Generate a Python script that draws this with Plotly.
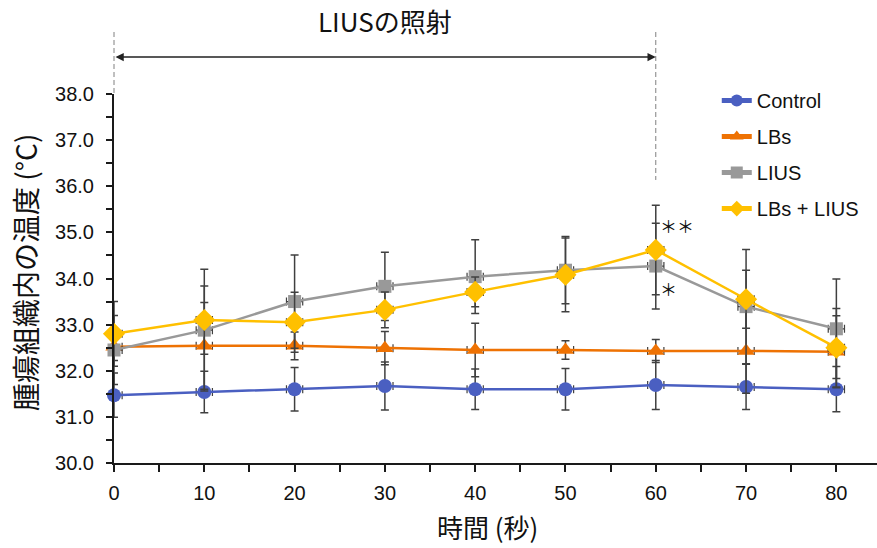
import plotly.graph_objects as go

# Sampling times (s)
time_s = [0, 10, 20, 30, 40, 50, 60, 70, 80]

# Mean tumour tissue temperature (°C) and error per group
control = [31.47, 31.54, 31.60, 31.67, 31.60, 31.60, 31.69, 31.65, 31.60]
control_err = [0.48, 0.45, 0.47, 0.52, 0.44, 0.45, 0.53, 0.49, 0.49]

lbs = [32.52, 32.54, 32.54, 32.49, 32.45, 32.45, 32.43, 32.43, 32.41]
lbs_err = [0.30, 0.94, 0.30, 0.36, 0.58, 0.20, 0.25, 0.92, 0.78]

lius = [32.45, 32.88, 33.50, 33.83, 34.04, 34.18, 34.27, 33.39, 32.91]
lius_err = [0.75, 1.32, 1.01, 0.74, 0.80, 0.73, 0.93, 1.24, 1.08]

combo = [32.80, 33.10, 33.05, 33.32, 33.71, 34.08, 34.62, 33.55, 32.50]
combo_err = [0.70, 0.74, 0.65, 0.39, 0.32, 0.80, 0.97, 0.63, 0.85]

series_names = ["Control", "LBs", "LIUS", "LBs + LIUS"]
series_colors = ["#4a5fc1", "#ee7203", "#999999", "#ffc000"]
series_symbols = ["circle", "triangle-up", "square", "diamond"]
series_sizes = [14, 15, 13, 17]

X_MIN, X_MAX = 0, 84.5
Y_MIN, Y_MAX = 30, 38
IRRAD_START, IRRAD_END = 0, 60
X_ERR = 0.9

FONT = "Liberation Sans, Arial, Noto Sans CJK JP, sans-serif"
JP_FONT = "Noto Sans CJK JP, Liberation Sans, sans-serif"
ERR_COLOR = "#404040"

fig = go.Figure()

for i, (name, vals, errs) in enumerate(zip(
        series_names,
        [control, lbs, lius, combo],
        [control_err, lbs_err, lius_err, combo_err])):
    fig.add_trace(go.Scatter(
        x=time_s, y=vals, name=name, mode="lines+markers",
        legendgroup=name,
        cliponaxis=False,
        line=dict(color=series_colors[i], width=2.5),
        marker=dict(symbol=series_symbols[i], size=series_sizes[i],
                    color=series_colors[i]),
        error_y=dict(type="data", array=errs, visible=True,
                     color=ERR_COLOR, thickness=1.5, width=4),
        error_x=dict(type="constant", value=X_ERR, visible=True,
                     color=ERR_COLOR, thickness=1.2, width=4),
    ))


def xpaper(v):
    return (v - X_MIN) / (X_MAX - X_MIN)


shapes = [
    dict(type="line", xref="paper", yref="paper",
         x0=xpaper(IRRAD_START), x1=xpaper(IRRAD_START), y0=1.168, y1=1.0,
         line=dict(color="#808080", width=1, dash="5px,3px")),
    dict(type="line", xref="paper", yref="paper",
         x0=xpaper(IRRAD_END), x1=xpaper(IRRAD_END), y0=1.168, y1=0.767,
         line=dict(color="#808080", width=1, dash="5px,3px")),
]

annotations = [
    # irradiation period label and arrow
    dict(text="LIUSの照射", xref="x", yref="paper",
         x=(IRRAD_START + IRRAD_END) / 2, y=1.198,
         showarrow=False, font=dict(family=JP_FONT, size=26, color="#111"),
         xanchor="center", yanchor="middle"),
    dict(text="", xref="x", yref="paper", x=IRRAD_END, y=1.100,
         axref="x", ayref="pixel", ax=IRRAD_START, ay=0,
         showarrow=True, arrowside="end+start", arrowhead=2,
         arrowsize=1.1, arrowwidth=1.5, arrowcolor="#222",
         standoff=0, startstandoff=0),
    # significance marks at 60 s
    dict(text="＊＊", xref="x", yref="y", x=time_s[6], y=combo[6],
         xshift=21, yshift=24, showarrow=False,
         font=dict(family=JP_FONT, size=17, color="#111")),
    dict(text="＊", xref="x", yref="y", x=time_s[6], y=lius[6],
         xshift=13, yshift=-22, showarrow=False,
         font=dict(family=JP_FONT, size=17, color="#111")),
    # axis titles
    dict(text="時間 (秒)", xref="paper", yref="paper",
         x=(487 - 114) / 763, y=-0.173, showarrow=False,
         font=dict(family=JP_FONT, size=26, color="#111"),
         xanchor="center", yanchor="middle"),
    dict(text="腫瘍組織内の温度 (°C)", xref="paper", yref="paper",
         x=-0.1166, y=0.515, textangle=-90, showarrow=False,
         font=dict(family=JP_FONT, size=28, color="#111"),
         xanchor="center", yanchor="middle"),
]

fig.update_layout(
    width=877, height=548,
    margin=dict(l=114, r=0, t=94, b=85),
    paper_bgcolor="white", plot_bgcolor="white",
    font=dict(family=FONT, size=20, color="#111"),
    showlegend=True,
    legend=dict(x=0.79, y=1.035, xanchor="left", yanchor="top",
                font=dict(family=FONT, size=20, color="#111"),
                bgcolor="rgba(0,0,0,0)", tracegroupgap=7,
                itemsizing="constant"),
    shapes=shapes,
    annotations=annotations,
)

fig.update_xaxes(
    range=[X_MIN, X_MAX], tickvals=time_s, showgrid=False, zeroline=False,
    showline=True, linecolor="#1a1a1a", linewidth=2,
    ticks="outside", ticklen=7, tickwidth=1.5, tickcolor="#1a1a1a",
    minor=dict(dtick=5, ticks="outside", ticklen=7, tickwidth=1.5,
               tickcolor="#1a1a1a"),
    ticklabelstandoff=4,
    tickfont=dict(family=FONT, size=20, color="#111"),
)
fig.update_yaxes(
    range=[Y_MIN, Y_MAX], dtick=1, tickformat=".1f",
    showgrid=False, zeroline=False,
    showline=True, linecolor="#1a1a1a", linewidth=2,
    ticks="outside", ticklen=6, tickwidth=1.5, tickcolor="#1a1a1a",
    minor=dict(dtick=0.5, ticks="outside", ticklen=6, tickwidth=1.5,
               tickcolor="#1a1a1a"),
    ticklabelstandoff=8,
    tickfont=dict(family=FONT, size=20, color="#111"),
)

fig.write_html("out.html")
